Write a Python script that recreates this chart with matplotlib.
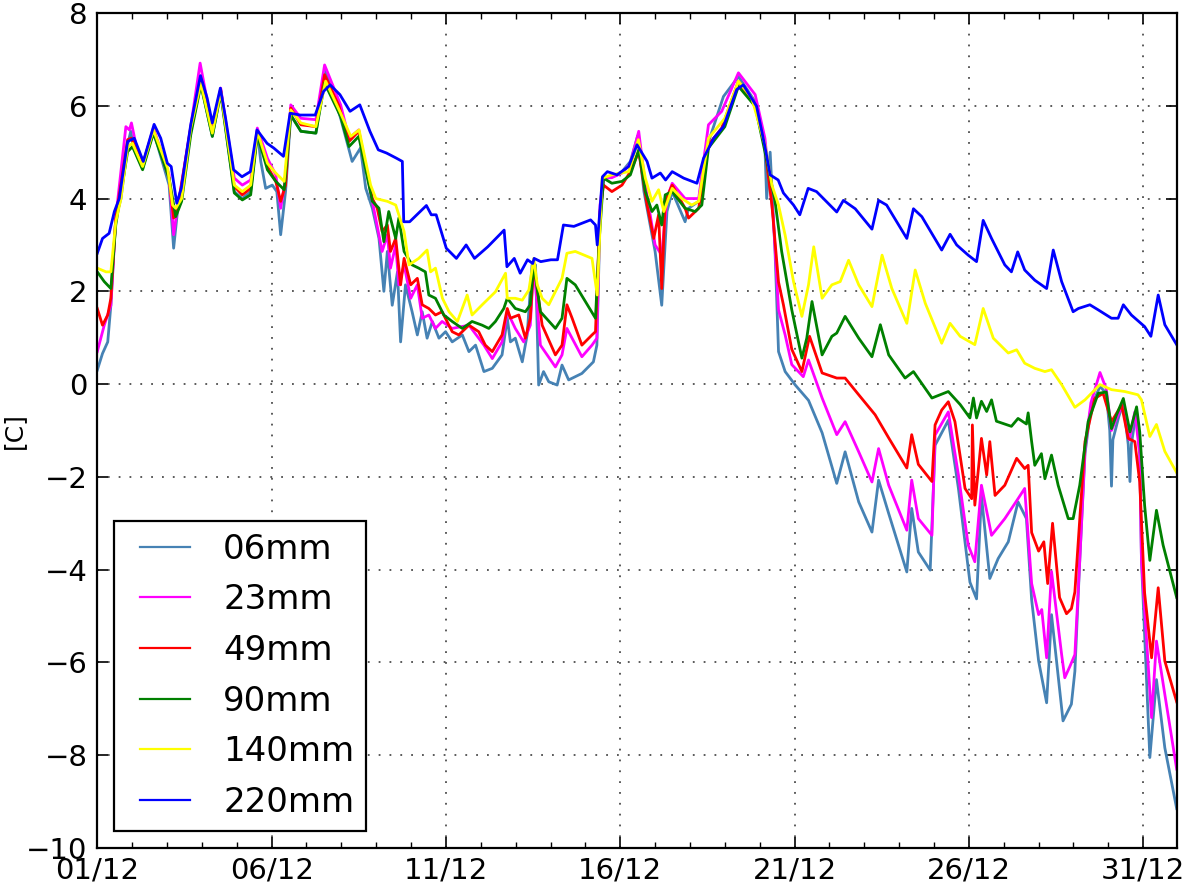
import matplotlib
matplotlib.use('Agg')
import matplotlib.pyplot as plt
import matplotlib.dates as mdates
from matplotlib.lines import Line2D
from matplotlib.legend_handler import HandlerLine2D
from datetime import datetime, timedelta

START = datetime(2012, 12, 1)

# Soil temperature at several depths (day offset from 01/12, value in C)
d06 = [0.0, 0.15, 0.3, 0.39, 0.53, 0.68, 0.87, 0.96, 1.04, 1.3, 1.61, 2.06, 2.19, 2.3, 2.68, 2.97,
       3.3, 3.54, 3.93, 4.16, 4.4, 4.59, 4.69, 4.83, 5.02, 5.15, 5.26, 5.4, 5.55, 5.84, 6.27, 6.55,
       6.98, 7.22, 7.31, 7.55, 7.7, 7.89, 8.08, 8.22, 8.32, 8.46, 8.61, 8.7, 8.84, 9.03, 9.18, 9.32,
       9.46, 9.61, 9.8, 9.99, 10.18, 10.47, 10.66, 10.85, 11.09, 11.33, 11.61, 11.76, 11.85, 11.99,
       12.19, 12.33, 12.47, 12.57, 12.66, 12.8, 12.95, 13.19, 13.33, 13.52, 13.9, 14.23, 14.33, 14.42,
       14.52, 14.76, 15.05, 15.29, 15.5, 15.68, 16.0, 16.19, 16.34, 16.49, 16.86, 16.96, 17.25, 17.44,
       17.96, 18.39, 18.87, 19.15, 19.2, 19.3, 19.44, 19.54, 19.73, 20.02, 20.4, 20.79, 21.21, 21.45,
       21.84, 22.22, 22.41, 22.7, 23.22, 23.36, 23.55, 23.89, 24.03, 24.41, 24.7, 25.03, 25.22, 25.36,
       25.6, 25.84, 26.13, 26.41, 26.65, 26.8, 27.0, 27.23, 27.37, 27.7, 27.94, 28.04, 28.18, 28.33,
       28.5, 28.76, 28.94, 29.04, 29.09, 29.13, 29.3, 29.43, 29.57, 29.62, 29.66, 29.8, 29.9, 29.95,
       30.19, 30.38, 30.62, 30.96]
t06 = [0.3, 0.66, 0.91, 1.7, 3.58, 4.0, 5.16, 5.45, 5.09, 4.65, 5.45, 4.29, 2.93, 3.72, 5.45, 6.49,
       5.34, 6.31, 4.15, 4.0, 4.15, 5.45, 4.8, 4.22, 4.29, 4.15, 3.22, 4.15, 5.8, 5.45, 5.41, 6.75,
       5.73, 5.05, 4.8, 5.09, 4.22, 3.79, 3.14, 2.0, 2.86, 1.7, 2.42, 0.91, 2.14, 1.56, 1.06, 1.56,
       0.99, 1.35, 0.99, 1.13, 0.91, 1.06, 0.7, 0.84, 0.27, 0.34, 0.63, 1.42, 0.91, 0.99,
       0.48, 1.06, 2.57, 2.57, -0.02, 0.27, 0.05, -0.02, 0.41, 0.09, 0.23, 0.48, 0.84, 3.58,
       4.44, 4.47, 4.58, 4.8, 5.35, 4.15, 2.86, 1.7, 3.72, 4.15, 3.5, 3.79, 3.94, 5.01,
       6.2, 6.63, 6.09, 5.09, 4.0, 5.0, 2.86, 0.7, 0.27, -0.02, -0.35, -1.05, -2.14, -1.46,
       -2.54, -3.19, -2.07, -2.79, -4.05, -2.68, -3.62, -4.01, -1.32, -0.78, -2.25, -4.27, -4.63, -2.4,
       -4.19, -3.76, -3.4, -2.54, -2.9, -4.65, -5.97, -6.87, -4.97, -7.26, -6.9, -6.19, -3.8, -1.5,
       -0.5, -0.05, -0.2, -1.0, -2.2, -1.2, -0.7, -0.4, -1.3, -2.1, -1.3, -0.6, -1.5, -3.8,
       -8.05, -6.37, -7.84, -9.15]

d23 = [0.0, 0.2, 0.39, 0.53, 0.82, 0.92, 0.98, 1.11, 1.3, 1.61, 2.06, 2.19, 2.3, 2.68, 2.95, 3.3,
       3.54, 3.93, 4.16, 4.4, 4.59, 4.88, 5.12, 5.26, 5.4, 5.55, 5.84, 6.27, 6.52, 6.98, 7.22, 7.5,
       7.89, 8.17, 8.32, 8.41, 8.56, 8.65, 8.8, 8.99, 9.18, 9.32, 9.51, 9.7, 9.89, 10.18, 10.66, 11.09,
       11.33, 11.61, 11.76, 11.99, 12.23, 12.42, 12.52, 12.71, 13.14, 13.33, 13.47, 13.9, 14.19, 14.33,
       14.42, 14.52, 14.76, 15.05, 15.29, 15.53, 15.72, 16.0, 16.19, 16.34, 16.49, 16.86, 17.25, 17.53,
       17.91, 18.39, 18.87, 19.15, 19.39, 19.54, 19.73, 19.92, 20.25, 20.4, 20.79, 21.21, 21.45, 21.84,
       22.22, 22.41, 22.7, 23.22, 23.36, 23.55, 23.94, 24.03, 24.41, 24.7, 24.98, 25.17, 25.36, 25.65,
       26.03, 26.41, 26.6, 26.8, 27.0, 27.09, 27.23, 27.37, 27.66, 27.75, 27.9, 28.04, 28.18, 28.33,
       28.5, 28.76, 28.94, 29.09, 29.2, 29.43, 29.6, 29.76, 29.9, 29.95, 30.24, 30.38, 30.62, 30.96]
t23 = [0.7, 1.27, 1.7, 3.58, 5.55, 5.48, 5.63, 5.16, 4.73, 5.52, 4.51, 3.22, 3.79, 5.55, 6.92, 5.52,
       6.38, 4.44, 4.29, 4.4, 5.52, 4.87, 4.51, 3.79, 4.44, 6.02, 5.73, 5.7, 6.88, 6.02, 5.3, 5.48,
       3.94, 2.86, 3.22, 2.5, 3.0, 2.14, 2.57, 1.85, 2.14, 1.42, 1.49, 1.2, 1.35, 1.2, 1.27, 0.84,
       0.55, 0.91, 1.56, 1.2, 0.91, 1.27, 2.6, 0.84, 0.37, 0.63, 1.2, 0.59, 0.84, 0.99,
       3.86, 4.44, 4.45, 4.55, 4.75, 5.45, 4.29, 3.0, 2.78, 4.0, 4.33, 4.0, 4.0, 5.59,
       5.88, 6.71, 6.24, 5.3, 3.58, 1.6, 1.06, 0.42, 0.16, 0.52, -0.3, -1.09, -0.81, -1.46,
       -2.11, -1.39, -2.18, -3.15, -2.07, -2.9, -3.26, -1.1, -0.6, -1.96, -3.47, -3.83, -2.18, -3.26,
       -2.9, -2.47, -2.25, -4.3, -4.97, -4.86, -5.9, -4.04, -5.83, -6.33, -6.08, -5.83, -3.8, -1.4,
       -0.4, 0.25, -0.1, -1.0, -0.8, -0.4, -1.2, -0.6, -1.5, -3.8, -7.19, -5.54, -6.69, -8.3]

d49 = [0.0, 0.15, 0.3, 0.39, 0.53, 0.87, 0.98, 1.3, 1.61, 2.06, 2.19, 2.3, 2.68, 2.97, 3.3, 3.54,
       3.93, 4.16, 4.4, 4.59, 4.88, 5.12, 5.26, 5.4, 5.55, 5.84, 6.27, 6.52, 6.93, 7.22, 7.5, 7.89,
       8.03, 8.17, 8.32, 8.41, 8.56, 8.7, 8.8, 8.99, 9.18, 9.32, 9.51, 9.7, 9.89, 10.18, 10.37, 10.66,
       10.94, 11.13, 11.33, 11.61, 11.76, 11.85, 12.09, 12.28, 12.42, 12.52, 12.76, 13.14, 13.33, 13.47,
       13.62, 13.9, 14.19, 14.29, 14.42, 14.52, 14.76, 15.05, 15.29, 15.53, 15.77, 15.96, 16.1, 16.19,
       16.29, 16.49, 16.86, 16.96, 17.25, 17.53, 17.91, 18.39, 18.87, 19.15, 19.35, 19.54, 19.68, 19.92,
       20.21, 20.43, 20.79, 21.21, 21.45, 21.84, 22.31, 22.7, 23.22, 23.36, 23.55, 23.94, 24.03, 24.22,
       24.41, 24.6, 24.89, 25.08, 25.1, 25.17, 25.36, 25.51, 25.6, 25.75, 26.03, 26.37, 26.6, 26.7,
       26.8, 27.0, 27.15, 27.26, 27.4, 27.6, 27.8, 27.94, 28.04, 28.33, 28.61, 28.85, 29.09, 29.38,
       29.57, 29.76, 29.9, 30.04, 30.24, 30.43, 30.62, 30.96]
t49 = [1.63, 1.27, 1.49, 1.85, 3.58, 5.27, 5.3, 4.73, 5.48, 4.44, 3.58, 3.76, 5.52, 6.56, 5.41, 6.35,
       4.26, 4.08, 4.22, 5.45, 4.69, 4.37, 3.94, 4.29, 5.95, 5.59, 5.55, 6.67, 6.0, 5.23, 5.45, 4.0,
       3.79, 3.29, 3.43, 2.86, 3.14, 2.14, 2.71, 2.14, 2.28, 1.71, 1.63, 1.49, 1.56, 1.13, 1.06, 1.27,
       1.13, 0.84, 0.7, 1.06, 1.63, 1.42, 1.49, 0.99, 1.42, 2.6, 1.27, 0.63, 0.84, 1.71,
       1.42, 0.84, 1.06, 1.13, 3.72, 4.29, 4.15, 4.29, 4.58, 5.01, 3.86, 3.14, 3.65, 2.06,
       3.94, 4.29, 3.79, 3.58, 3.79, 5.16, 5.52, 6.53, 6.02, 5.09, 3.86, 2.2, 1.71, 0.75,
       0.27, 1.03, 0.24, 0.13, 0.13, -0.23, -0.66, -1.16, -1.81, -1.09, -1.73, -2.1, -0.88, -0.56,
       -0.38, -0.81, -2.25, -2.47, -0.88, -2.61, -1.17, -1.96, -1.24, -2.4, -2.18, -1.6, -1.82, -1.75,
       -3.2, -3.6, -3.4, -4.3, -3.0, -4.6, -4.95, -4.84, -4.48, -1.24, -0.31, -0.2, -0.81, -0.45,
       -1.17, -1.24, -2.11, -4.5, -5.9, -4.39, -5.97, -6.85]

d90 = [0.0, 0.2, 0.39, 0.53, 0.87, 1.01, 1.3, 1.61, 2.06, 2.25, 2.42, 2.68, 2.97, 3.3, 3.54, 3.93,
       4.16, 4.4, 4.59, 4.88, 5.12, 5.36, 5.55, 5.84, 6.27, 6.52, 6.98, 7.22, 7.5, 7.89, 8.08, 8.22,
       8.36, 8.56, 8.65, 8.8, 9.03, 9.22, 9.41, 9.51, 9.7, 9.94, 10.18, 10.47, 10.75, 11.04, 11.23, 11.42,
       11.66, 11.76, 11.99, 12.28, 12.42, 12.52, 12.71, 13.14, 13.33, 13.47, 13.71, 14.0, 14.29, 14.4,
       14.52, 14.76, 15.05, 15.29, 15.53, 15.72, 15.91, 16.05, 16.19, 16.29, 16.49, 16.86, 17.15, 17.34,
       17.53, 18.0, 18.39, 18.87, 19.15, 19.44, 19.63, 19.92, 20.21, 20.35, 20.5, 20.79, 21.07, 21.21,
       21.45, 21.84, 22.22, 22.46, 22.7, 23.17, 23.41, 23.94, 24.41, 24.75, 25.03, 25.13, 25.22, 25.36,
       25.51, 25.65, 25.79, 26.22, 26.41, 26.65, 26.7, 26.8, 26.89, 27.08, 27.18, 27.37, 27.56, 27.85,
       27.99, 28.18, 28.42, 28.71, 28.94, 29.09, 29.23, 29.43, 29.62, 29.81, 29.9, 30.04, 30.19, 30.38,
       30.57, 30.96]
t90 = [2.42, 2.21, 2.06, 3.43, 5.01, 5.12, 4.62, 5.41, 4.44, 3.61, 3.94, 5.37, 6.45, 5.34, 6.27, 4.12,
       3.97, 4.08, 5.37, 4.62, 4.37, 4.19, 5.8, 5.45, 5.41, 6.49, 5.77, 5.12, 5.34, 3.94, 3.79, 3.07,
       3.72, 3.14, 3.58, 2.86, 2.57, 2.5, 2.42, 1.92, 1.85, 1.49, 1.35, 1.2, 1.35, 1.27, 1.2, 1.35,
       1.63, 1.85, 1.63, 1.56, 1.71, 2.6, 1.56, 1.2, 1.42, 2.28, 2.14, 1.78, 1.42, 3.14,
       4.44, 4.33, 4.37, 4.51, 5.05, 4.15, 3.72, 3.86, 3.43, 4.08, 4.15, 3.79, 3.72, 3.86,
       5.09, 5.55, 6.42, 5.99, 5.01, 3.94, 2.86, 1.6, 0.56, 0.99, 1.78, 0.63, 1.03, 1.1,
       1.46, 0.99, 0.59, 1.28, 0.63, 0.13, 0.27, -0.3, -0.16, -0.44, -0.73, -0.3, -0.73, -0.37,
       -0.59, -0.34, -0.8, -0.91, -0.74, -0.86, -0.62, -1.24, -1.75, -1.5, -2.04, -1.53, -2.18, -2.9,
       -2.9, -2.18, -0.81, -0.2, -0.17, -0.96, -0.67, -0.31, -1.03, -0.49, -1.03, -2.61, -3.8, -2.72,
       -3.47, -4.6]

d140 = [0.0, 0.25, 0.39, 0.53, 0.68, 0.87, 1.01, 1.3, 1.61, 2.02, 2.16, 2.25, 2.42, 2.68, 2.97, 3.3,
        3.54, 3.93, 4.16, 4.4, 4.59, 4.88, 5.12, 5.36, 5.55, 5.84, 6.27, 6.55, 6.98, 7.27, 7.51, 7.84,
        7.99, 8.32, 8.56, 8.8, 8.94, 9.22, 9.46, 9.56, 9.7, 9.9, 10.09, 10.33, 10.61, 10.75, 11.04, 11.42,
        11.71, 11.76, 11.99, 12.19, 12.38, 12.52, 12.62, 12.76, 12.95, 13.33, 13.47, 13.71, 14.19, 14.34,
        14.48, 14.76, 15.24, 15.52, 15.72, 15.91, 16.1, 16.25, 16.49, 16.77, 17.05, 17.25, 17.53, 18.0,
        18.39, 18.77, 19.15, 19.35, 19.54, 19.73, 19.97, 20.21, 20.4, 20.55, 20.79, 21.07, 21.31, 21.55,
        21.84, 22.22, 22.51, 22.79, 23.22, 23.46, 23.75, 24.22, 24.46, 24.75, 25.17, 25.41, 25.7, 26.13,
        26.37, 26.6, 26.89, 27.18, 27.37, 27.66, 28.04, 28.33, 28.76, 29.09, 29.47, 29.85, 29.95, 30.19,
        30.38, 30.62, 30.96]
t140 = [2.5, 2.42, 2.42, 3.5, 4.0, 5.12, 5.19, 4.69, 5.48, 4.65, 3.86, 3.79, 4.0, 5.52, 6.49, 5.41,
        6.31, 4.29, 4.15, 4.29, 5.45, 4.76, 4.55, 4.37, 5.91, 5.63, 5.55, 6.53, 5.84, 5.34, 5.48, 4.29,
        4.0, 3.94, 3.86, 3.29, 2.57, 2.71, 2.89, 2.42, 2.5, 1.85, 1.56, 1.35, 1.92, 1.49, 1.71, 1.99,
        2.39, 1.85, 1.85, 1.81, 2.03, 2.71, 2.14, 1.85, 1.71, 2.28, 2.82, 2.86, 2.71, 1.92,
        4.44, 4.51, 4.58, 5.27, 4.44, 3.94, 4.19, 3.72, 4.22, 4.0, 3.86, 3.94, 5.3, 5.73,
        6.53, 6.17, 5.16, 4.29, 3.86, 3.21, 2.21, 1.46, 2.14, 2.96, 1.85, 2.14, 2.21, 2.67,
        2.14, 1.67, 2.78, 2.06, 1.31, 2.46, 1.74, 0.88, 1.31, 1.03, 0.85, 1.63, 0.99, 0.67,
        0.74, 0.45, 0.34, 0.27, 0.31, -0.01, -0.5, -0.34, -0.01, -0.12, -0.16, -0.23, -0.34, -1.13,
        -0.87, -1.45, -1.91]

d220 = [0.0, 0.15, 0.34, 0.49, 0.63, 0.87, 1.06, 1.32, 1.63, 1.82, 2.01, 2.12, 2.28, 2.41, 2.68, 2.96,
        3.15, 3.3, 3.53, 3.68, 3.91, 4.15, 4.39, 4.58, 4.87, 5.06, 5.34, 5.53, 5.82, 6.25, 6.49, 6.68,
        6.96, 7.25, 7.53, 7.82, 8.06, 8.3, 8.58, 8.75, 8.79, 8.96, 9.44, 9.58, 9.72, 10.01, 10.3, 10.58,
        10.82, 11.2, 11.67, 11.75, 11.96, 12.13, 12.34, 12.49, 12.53, 12.72, 13.01, 13.2, 13.37, 13.67,
        14.15, 14.29, 14.34, 14.49, 14.63, 14.91, 15.24, 15.48, 15.77, 15.91, 16.15, 16.3, 16.49, 16.82,
        17.2, 17.39, 17.68, 17.96, 18.34, 18.53, 18.91, 19.15, 19.3, 19.53, 19.68, 19.97, 20.15, 20.39,
        20.63, 21.21, 21.4, 21.74, 22.22, 22.41, 22.64, 23.22, 23.41, 23.65, 24.22, 24.46, 24.65, 24.98,
        25.22, 25.41, 25.65, 26.03, 26.22, 26.4, 26.6, 26.89, 27.23, 27.42, 27.66, 27.99, 28.14, 28.47,
        28.71, 29.09, 29.28, 29.43, 29.66, 30.04, 30.22, 30.43, 30.62, 30.96]
t220 = [2.82, 3.14, 3.25, 3.72, 4.0, 5.23, 5.3, 4.8, 5.6, 5.3, 4.76, 4.69, 3.9, 4.22, 5.59, 6.65,
        6.17, 5.63, 6.38, 5.73, 4.62, 4.47, 4.58, 5.48, 5.19, 5.09, 4.91, 5.84, 5.8, 5.8, 6.31, 6.45,
        6.24, 5.88, 6.02, 5.45, 5.05, 4.98, 4.87, 4.8, 3.5, 3.5, 3.85, 3.65, 3.65, 2.93, 2.71, 3.0,
        2.71, 2.96, 3.32, 2.53, 2.71, 2.39, 2.68, 2.6, 2.71, 2.64, 2.68, 2.68, 3.43, 3.4,
        3.54, 3.43, 3.0, 4.47, 4.58, 4.51, 4.69, 5.16, 4.8, 4.44, 4.55, 4.4, 4.58, 4.44,
        4.33, 4.87, 5.3, 5.55, 6.35, 6.45, 5.99, 5.12, 4.51, 4.4, 4.12, 3.86, 3.65, 4.22,
        4.15, 3.71, 3.96, 3.78, 3.34, 3.96, 3.86, 3.14, 3.78, 3.61, 2.89, 3.23, 3.0, 2.78,
        2.64, 3.53, 3.14, 2.57, 2.42, 2.85, 2.46, 2.24, 2.06, 2.89, 2.21, 1.56, 1.63, 1.71,
        1.6, 1.42, 1.42, 1.71, 1.49, 1.24, 1.03, 1.92, 1.28, 0.85]

labels = ['06mm', '23mm', '49mm', '90mm', '140mm', '220mm']
colors = ['#4682b4', 'magenta', 'red', 'green', 'yellow', 'blue']
days = [d06, d23, d49, d90, d140, d220]
temps = [t06, t23, t49, t90, t140, t220]


def to_dates(day_list):
    return [START + timedelta(days=d) for d in day_list]


fig = plt.figure(figsize=(11.82, 8.9), dpi=100)
ax = fig.add_axes([0.0823, 0.0472, 0.9132, 0.9382])

for d, t, c, lab in zip(days, temps, colors, labels):
    ax.plot(to_dates(d), t, color=c, linewidth=2.0, label=lab)

ax.set_xlim(START, START + timedelta(days=30.96))
ax.set_ylim(-10, 8)
ax.set_yticks(range(-10, 9, 2))

ax.xaxis.set_major_locator(mdates.DayLocator(bymonthday=[1, 6, 11, 16, 21, 26, 31]))
ax.xaxis.set_minor_locator(mdates.DayLocator())
ax.xaxis.set_major_formatter(mdates.DateFormatter('%d/%m'))

ax.tick_params(which='both', direction='in', top=True, right=True, labelsize=21)
ax.tick_params(axis='x', pad=6)
ax.tick_params(axis='y', pad=7)
ax.tick_params(which='major', length=8, width=1.2)
ax.tick_params(which='minor', length=4, width=1.0)

ax.grid(True, which='major', color='0.3', linestyle=(0, (1, 5)), linewidth=1.3)
ax.set_ylabel('[C]', fontsize=18)
ax.yaxis.set_label_coords(-0.066, 0.5)

for spine in ax.spines.values():
    spine.set_linewidth(1.6)

# shorter legend lines, set in from the frame like the reference
leg = ax.legend(loc='lower left', fontsize=24.5, handlelength=1.88, handletextpad=0.97,
                borderpad=0.35, labelspacing=0.52, fancybox=False, framealpha=1.0,
                edgecolor='black', borderaxespad=0.5,
                handler_map={Line2D: HandlerLine2D(xpad=0.41)})
leg.get_frame().set_linewidth(1.6)
for line in leg.get_lines():
    line.set_linewidth(1.6)

plt.savefig('out.png', dpi=100)
plt.close()
